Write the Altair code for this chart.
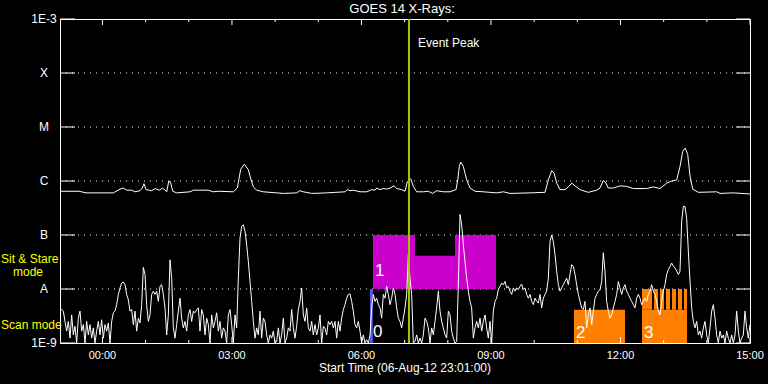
import altair as alt
import numpy as np
import pandas as pd

# ---- time axis: hours relative to 00:00 on 07-Aug-12 (start 23:01 on 06-Aug-12)
T_START = -59 / 60
T_END = 15.0
HOUR_TICKS = list(range(0, 16))
HOUR_LABELS = [0, 3, 6, 9, 12, 15]
HOUR_LABEL_TEXT = ["00:00", "03:00", "06:00", "09:00", "12:00", "15:00"]
LEVELS = [-9, -8, -7, -6, -5, -4, -3]          # log10 flux, W/m^2
LEVEL_TEXT = ["1E-9", "A", "B", "C", "M", "X", "1E-3"]
GRID_LEVELS = [-8, -7, -6, -5, -4]
EVENT_PEAK = 7.1                                  # 07:06

# ---- GOES 14 long channel (1-8 A), log10 flux
LONG_T = [-0.983, -0.543, -0.381, 0.252, 0.407, 0.483, 0.562, 0.678, 0.754, 0.870,
          0.923, 0.963, 1.009, 1.141, 1.218, 1.317, 1.396, 1.489, 1.535, 1.572,
          1.628, 1.720, 2.028, 2.105, 2.452, 2.568, 2.684, 3.031, 3.124, 3.203,
          3.286, 3.379, 3.418, 3.495, 3.573, 3.726, 4.190, 4.500, 4.576, 4.653,
          4.847, 5.195, 5.619, 5.672, 5.735, 5.811, 5.966, 6.121, 6.237, 6.314,
          6.353, 6.430, 6.506, 6.585, 6.661, 6.754, 6.817, 6.932, 7.009, 7.062,
          7.141, 7.201, 7.280, 7.433, 7.548, 7.650, 7.743, 7.896, 8.051, 8.190,
          8.230, 8.267, 8.299, 8.359, 8.438, 8.514, 8.630, 8.822, 9.133, 9.286,
          9.441, 9.904, 10.252, 10.328, 10.407, 10.460, 10.523, 10.599, 10.715, 10.791,
          10.870, 10.947, 11.062, 11.255, 11.449, 11.526, 11.602, 11.665, 11.718, 11.834,
          11.989, 12.144, 12.297, 12.607, 12.760, 12.915, 13.071, 13.187, 13.302, 13.379,
          13.441, 13.502, 13.557, 13.611, 13.673, 13.803, 14.229, 14.306, 14.613, 15.0]
LONG_V = [-6.19, -6.19, -6.22, -6.22, -6.15, -6.13, -6.17, -6.17, -6.20, -6.18,
          -6.13, -6.05, -6.16, -6.18, -6.14, -6.17, -6.13, -6.20, -6.01, -6.01,
          -6.19, -6.22, -6.20, -6.17, -6.17, -6.20, -6.19, -6.20, -6.13, -5.78,
          -5.69, -5.79, -5.91, -6.11, -6.17, -6.20, -6.23, -6.22, -6.18, -6.20,
          -6.23, -6.22, -6.20, -6.16, -6.18, -6.17, -6.20, -6.20, -6.16, -6.17,
          -6.13, -6.16, -6.14, -6.15, -6.13, -6.09, -6.14, -6.16, -6.19, -6.01,
          -5.96, -6.10, -6.20, -6.20, -6.19, -6.23, -6.18, -6.20, -6.20, -6.16,
          -5.98, -5.73, -5.65, -5.73, -5.98, -6.13, -6.19, -6.20, -6.22, -6.20,
          -6.23, -6.22, -6.21, -5.98, -5.81, -5.85, -6.04, -6.16, -6.16, -6.11,
          -6.04, -6.09, -6.16, -6.21, -6.17, -6.13, -5.99, -6.04, -6.13, -6.13,
          -6.09, -6.10, -6.14, -6.14, -6.11, -6.14, -6.04, -6.00, -5.98, -5.73,
          -5.45, -5.39, -5.51, -5.91, -6.15, -6.21, -6.20, -6.23, -6.22, -6.24]

# ---- GOES 14 short channel (0.5-4 A), log10 flux, evenly sampled from start to end
SHORT_1 = [-8.35, -8.38, -8.41, -8.60, -8.78, -8.60, -8.91, -8.48, -8.85, -8.69,
           -9.00, -8.54, -8.41, -8.78, -8.66, -9.00, -8.60, -8.85, -8.66, -8.91,
           -8.72, -9.00, -8.78, -8.60, -8.85, -8.57, -8.91, -8.66, -8.78, -8.63,
           -9.00, -8.60, -8.44, -8.41, -8.29, -8.10, -7.98, -7.89, -7.87, -7.92,
           -8.10, -8.20, -8.41, -8.38, -8.66, -8.41, -8.78, -8.54, -8.63, -8.29,
           -7.60, -7.73, -8.29, -8.60, -8.48, -8.10, -8.04, -8.10, -8.04, -8.23,
           -7.95, -7.92, -8.10, -8.35, -8.85, -8.48, -7.46, -7.80, -8.72, -8.91,
           -8.66, -8.41, -8.17, -8.54, -8.72, -8.60, -8.78, -8.48, -8.38, -8.60,
           -8.41, -8.44, -8.38, -8.35, -8.78, -8.38, -8.48, -8.85, -8.54, -8.66,
           -9.00, -8.48, -8.72, -8.60, -8.44, -8.78, -8.60, -8.91, -8.72, -8.78,
           -9.00, -8.48, -8.38, -8.66, -9.00, -8.48]
SHORT_2 = [-8.72, -7.80, -7.06, -6.84, -6.81, -6.93, -7.18, -7.49, -7.86, -8.23,
           -8.60, -8.91, -8.72, -8.85, -8.41, -8.91, -8.54, -8.60, -8.85, -9.00,
           -8.85, -8.91, -8.78, -9.00, -8.97, -8.72, -9.00, -8.85, -8.54, -9.00,
           -8.91, -8.72, -8.78, -8.38, -8.72, -8.91, -8.69, -8.38, -8.23, -7.98,
           -8.48, -8.60, -8.35, -8.72, -8.78, -8.60, -8.85, -8.66, -8.85, -8.72,
           -8.48, -9.00, -8.69, -8.72, -8.85, -8.60, -8.66, -8.60, -8.72, -8.60,
           -8.91, -8.60, -8.78, -8.54, -8.38, -8.29, -8.17, -8.10, -8.09, -8.23,
           -8.41, -8.66, -8.72, -8.60, -8.78, -9.00, -8.85, -9.00, -8.94, -9.00,
           -8.85, -8.35, -8.10, -8.23, -8.17, -8.29, -8.35, -8.54, -8.10, -8.17,
           -7.95, -8.10, -8.29, -8.17, -7.98, -8.10, -8.35, -8.54, -8.60, -8.72,
           -8.54, -8.35, -8.10, -7.36, -7.80]
SHORT_3 = [-8.10, -9.00, -8.97, -8.85, -9.00, -8.91, -9.00, -8.85, -8.54, -8.60,
           -8.72, -9.00, -8.72, -8.85, -8.60, -8.35, -8.04, -8.41, -8.60, -8.72,
           -8.85, -8.91, -8.41, -8.48, -8.78, -8.91, -9.00, -8.97, -7.92, -6.62,
           -6.81, -7.18, -7.49, -7.80, -8.04, -8.23, -8.35, -8.91, -8.72, -8.60,
           -8.72, -8.54, -8.78, -8.60, -8.48, -8.72, -8.91, -8.60, -9.00, -8.41,
           -8.23, -8.17, -8.01, -7.95, -7.89, -7.92, -7.86, -7.98, -7.95, -8.04,
           -8.10, -7.98, -8.04, -7.98, -8.01, -7.95, -7.91, -8.01, -7.98, -8.10,
           -8.17, -8.10, -8.23, -8.29, -8.17, -8.23, -8.26, -8.10, -8.35, -8.17,
           -8.10, -8.04, -7.80, -7.12, -7.00, -7.12, -7.36, -7.67, -7.92, -8.04,
           -7.98, -7.92, -7.86, -7.80, -7.92, -7.73, -7.55, -7.58, -7.73, -7.92,
           -8.10, -8.23, -8.35, -8.38, -8.23]
SHORT_4 = [-8.72, -8.48, -8.35, -8.66, -8.41, -8.17, -8.10, -8.04, -8.01, -7.86,
           -7.33, -7.67, -8.23, -8.41, -8.54, -8.48, -8.35, -8.23, -8.10, -7.86,
           -7.98, -8.10, -7.98, -7.92, -8.04, -8.10, -8.17, -8.23, -8.29, -8.35,
           -8.17, -8.10, -8.17, -8.29, -8.23, -8.17, -8.23, -8.10, -8.04, -7.92,
           -8.04, -8.10, -8.23, -8.41, -8.48, -8.23, -8.04, -7.92, -7.73, -7.64,
           -7.58, -7.52, -7.58, -7.61, -7.67, -7.73, -7.67, -6.75, -6.47, -6.47,
           -6.69, -7.30, -7.86, -8.35, -8.60, -8.72, -8.60, -8.85, -8.78, -8.91,
           -8.72, -8.60, -8.85, -9.00, -8.72, -8.41, -8.29, -8.54, -8.85, -9.00,
           -8.78, -8.91, -8.85, -9.00, -8.78, -8.91, -9.00, -8.85, -9.00, -8.85,
           -8.41, -8.78, -9.00, -8.91, -8.85, -8.41, -8.72, -8.91, -8.66]
SHORT_V = SHORT_1 + SHORT_2 + SHORT_3 + SHORT_4

# ---- observation blocks: id, start, end, low, high (log10 flux)
OBS_ID = ["0", "1", "1", "1", "2", "3", "3", "3", "3", "3", "3", "3", "3"]
OBS_START = [6.198, 6.267, 7.240, 8.166, 10.923, 12.498, 12.498, 12.776, 12.915,
             13.054, 13.193, 13.332, 13.471]
OBS_END = [6.260, 7.240, 8.166, 9.116, 12.104, 13.541, 12.730, 12.869, 13.008,
           13.147, 13.286, 13.425, 13.541]
OBS_LOW = [-9, -8, -8, -8, -9, -9, -8.383, -8.383, -8.383, -8.383, -8.383, -8.383, -8.383]
OBS_HIGH = [-8, -7, -7.383, -7, -8.383, -8.383, -8, -8, -8, -8, -8, -8, -8]
OBS_NAMES = ["0", "1", "2", "3"]
OBS_LABEL_T = [6.22, 6.267, 10.923, 12.498]
OBS_LABEL_LEVEL = [-8.79, -7.67, -8.82, -8.82]

long_df = pd.DataFrame({"t": LONG_T, "v": LONG_V})
short_df = pd.DataFrame({"t": np.linspace(T_START, T_END, len(SHORT_V)), "v": SHORT_V})
obs_df = pd.DataFrame({"id": OBS_ID, "start": OBS_START, "end": OBS_END,
                       "low": OBS_LOW, "high": OBS_HIGH})
lab_df = pd.DataFrame({"id": OBS_NAMES, "t": OBS_LABEL_T, "v": OBS_LABEL_LEVEL})
hour_df = pd.DataFrame({"t": HOUR_TICKS, "major": [h % 3 == 0 for h in HOUR_TICKS]})
hlab_df = pd.DataFrame({"t": HOUR_LABELS, "txt": HOUR_LABEL_TEXT})
lev_df = pd.DataFrame({"v": LEVELS, "txt": LEVEL_TEXT})
grid_df = pd.DataFrame({"v": GRID_LEVELS})
peak_df = pd.DataFrame({"t": [EVENT_PEAK]})

FONT = "Liberation Sans"
xs = alt.Scale(domain=[T_START, T_END], nice=False, zero=False)
ys = alt.Scale(domain=[-9, -3], nice=False, zero=False)
X = lambda f: alt.X(f, scale=xs, axis=None)
Y = lambda f: alt.Y(f, scale=ys, axis=None)

grid = alt.Chart(grid_df).mark_rule(color="white", strokeWidth=1, strokeDash=[1, 5]).encode(
    y=Y("v:Q"), x=alt.value(0), x2=alt.value(690))

obs = alt.Chart(obs_df).mark_rect().encode(
    x=X("start:Q"), x2="end:Q", y=Y("low:Q"), y2="high:Q",
    color=alt.Color("id:N", legend=None,
                    scale=alt.Scale(domain=OBS_NAMES,
                                    range=["#5a5aff", "#cc00cc", "#ff8000", "#ff8000"])))

short = alt.Chart(short_df).mark_line(color="white", strokeWidth=1).encode(
    x=X("t:Q"), y=Y("v:Q"))
longc = alt.Chart(long_df).mark_line(color="white", strokeWidth=1).encode(
    x=X("t:Q"), y=Y("v:Q"))

top_major = alt.Chart(hour_df).transform_filter("datum.major").mark_rule(color="white").encode(
    x=X("t:Q"), y=alt.value(0), y2=alt.value(6))
top_minor = alt.Chart(hour_df).transform_filter("!datum.major").mark_rule(color="white").encode(
    x=X("t:Q"), y=alt.value(0), y2=alt.value(3))
bot_major = alt.Chart(hour_df).transform_filter("datum.major").mark_rule(color="white").encode(
    x=X("t:Q"), y=alt.value(324), y2=alt.value(318))
bot_minor = alt.Chart(hour_df).transform_filter("!datum.major").mark_rule(color="white").encode(
    x=X("t:Q"), y=alt.value(324), y2=alt.value(321))
left_ticks = alt.Chart(lev_df).mark_rule(color="white").encode(
    y=Y("v:Q"), x=alt.value(0), x2=alt.value(15))
right_ticks = alt.Chart(lev_df).mark_rule(color="white").encode(
    y=Y("v:Q"), x=alt.value(676), x2=alt.value(690))

ylabels = alt.Chart(lev_df).mark_text(
    color="white", font=FONT, fontSize=12, align="center", baseline="middle"
).encode(y=Y("v:Q"), x=alt.value(-16), text="txt:N")
xlabels = alt.Chart(hlab_df).mark_text(
    color="white", font=FONT, fontSize=11, align="center", baseline="alphabetic"
).encode(x=X("t:Q"), y=alt.value(339.7), text="txt:N")

peak = alt.Chart(peak_df).mark_rule(color="#99cc00", strokeWidth=2).encode(
    x=X("t:Q"), y=alt.value(0), y2=alt.value(324))
peak_txt = alt.Chart(peak_df).mark_text(
    text="Event Peak", color="white", font=FONT, fontSize=12, align="left",
    baseline="alphabetic", dx=9).encode(x=X("t:Q"), y=alt.value(27.7))

obs_txt = alt.Chart(lab_df).mark_text(
    color="white", font=FONT, fontSize=17, align="left", baseline="middle", dx=2
).encode(x=X("t:Q"), y=Y("v:Q"), text="id:N")


def label(txt, x, y, color="white", size=12, align="left"):
    return alt.Chart(peak_df).mark_text(
        text=txt, color=color, font=FONT, fontSize=size, align=align,
        baseline="alphabetic").encode(x=alt.value(x), y=alt.value(y))


title = label("GOES 14 X-Rays:", 342, -5.7, size=13, align="center")
xtitle = label("Start Time (06-Aug-12 23:01:00)", 345, 353, size=12, align="center")
sit1 = label("Sit & Stare", -59, 243.5, color="#ffff00")
sit2 = label("mode", -47, 256.5, color="#ffff00")
scan = label("Scan mode", -59, 309.5, color="#ffff00")

chart = alt.layer(
    grid, obs, short, longc, top_major, top_minor, bot_major, bot_minor,
    left_ticks, right_ticks, ylabels, xlabels, peak, peak_txt, obs_txt,
    title, xtitle, sit1, sit2, scan
).properties(
    width=690, height=324,
    padding={"left": 60, "top": 19, "right": 18, "bottom": 41},
    autosize=alt.AutoSizeParams(type="none"),
    background="black",
).configure_view(stroke="white", strokeWidth=1, fill="black")

chart.save("out.html", embed_options={"renderer": "svg", "actions": False})
